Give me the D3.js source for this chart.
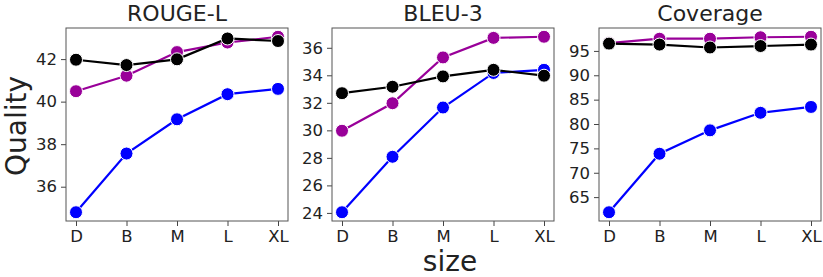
<!DOCTYPE html>
<head>
  <meta charset="utf-8">
  <script src="https://d3js.org/d3.v7.min.js"></script>
  <style>
    body { margin: 0; background: #fff; font-family: "DejaVu Sans", sans-serif; }
    .tick text { fill: #222; }
  </style>
</head>
<body>
  <script>
    var sizes = ["D", "B", "M", "L", "XL"];
    var metrics = ["ROUGE-L", "BLEU-3", "Coverage"];

    // one array per series per metric
    var rougeBlue   = [34.80, 37.56, 39.17, 40.35, 40.60];
    var rougePurple = [40.49, 41.22, 42.33, 42.78, 43.05];
    var rougeBlack  = [41.97, 41.72, 41.99, 42.97, 42.85];

    var bleuBlue   = [24.05, 28.08, 31.66, 34.17, 34.40];
    var bleuPurple = [29.97, 31.97, 35.30, 36.72, 36.80];
    var bleuBlack  = [32.70, 33.17, 33.92, 34.40, 33.97];

    var covBlue   = [61.9, 73.9, 78.7, 82.3, 83.5];
    var covPurple = [96.6, 97.5, 97.5, 97.8, 97.9];
    var covBlack  = [96.5, 96.3, 95.7, 96.0, 96.3];

    var ticks = [
      [36, 38, 40, 42],
      [24, 26, 28, 30, 32, 34, 36],
      [65, 70, 75, 80, 85, 90, 95]
    ];

    var colors = ["#0000ff", "#990099", "#000000"];

    var panels = [
      [rougeBlue, rougePurple, rougeBlack],
      [bleuBlue, bleuPurple, bleuBlack],
      [covBlue, covPurple, covBlack]
    ];

    var W = 823, H = 277;
    var lefts = [66, 332, 599];
    var pw = 222, plotTop = 28, plotBottom = 221;

    var svg = d3.select("body").append("svg")
      .attr("width", W)
      .attr("height", H);

    panels.forEach(function(series, p) {
      var g = svg.append("g")
        .attr("transform", "translate(" + lefts[p] + ",0)");

      var x = d3.scalePoint()
        .domain(sizes)
        .range([10, pw - 10]);

      var all = d3.merge(series);
      var ext = d3.extent(all);
      var pad = (ext[1] - ext[0]) * 0.05;
      var y = d3.scaleLinear()
        .domain([ext[0] - pad, ext[1] + pad])
        .range([plotBottom, plotTop]);

      var xaxis = g.append("g")
        .attr("transform", "translate(0," + plotBottom + ")")
        .call(d3.axisBottom(x).tickSize(5).tickPadding(4));
      xaxis.attr("font-size", 16.5).attr("font-family", "DejaVu Sans");
      xaxis.select(".domain").remove();
      xaxis.selectAll("line").attr("stroke", "#444");

      var yaxis = g.append("g")
        .call(d3.axisLeft(y).tickValues(ticks[p]).tickSize(5).tickPadding(4));
      yaxis.attr("font-size", 16.5).attr("font-family", "DejaVu Sans");
      yaxis.select(".domain").remove();
      yaxis.selectAll("line").attr("stroke", "#444");

      g.append("rect")
        .attr("x", 0)
        .attr("y", plotTop)
        .attr("width", pw)
        .attr("height", plotBottom - plotTop)
        .attr("fill", "none")
        .attr("stroke", "#555")
        .attr("stroke-width", 1);

      var line = d3.line()
        .x(function(d, i) { return x(sizes[i]); })
        .y(function(d) { return y(d); });

      series.forEach(function(vals, s) {
        g.append("path")
          .datum(vals)
          .attr("d", line)
          .attr("fill", "none")
          .attr("stroke", colors[s])
          .attr("stroke-width", 2.2);

        g.selectAll(".pt" + s)
          .data(vals)
          .enter()
          .append("circle")
          .attr("class", "pt" + s)
          .attr("cx", function(d, i) { return x(sizes[i]); })
          .attr("cy", function(d) { return y(d); })
          .attr("r", 6.5)
          .attr("fill", colors[s])
          .attr("stroke", "#fff")
          .attr("stroke-width", 1);
      });

      g.append("text")
        .text(metrics[p])
        .attr("x", pw / 2)
        .attr("y", 21)
        .attr("text-anchor", "middle")
        .style("font-size", "22px")
        .style("fill", "#222");
    });

    svg.append("text")
      .text("Quality")
      .attr("text-anchor", "middle")
      .attr("transform", "translate(26,126) rotate(-90)")
      .style("font-size", "28px")
      .style("fill", "#222");

    svg.append("text")
      .text("size")
      .attr("x", 450)
      .attr("y", 271)
      .attr("text-anchor", "middle")
      .style("font-size", "28px")
      .style("fill", "#222");
  </script>
</body>
